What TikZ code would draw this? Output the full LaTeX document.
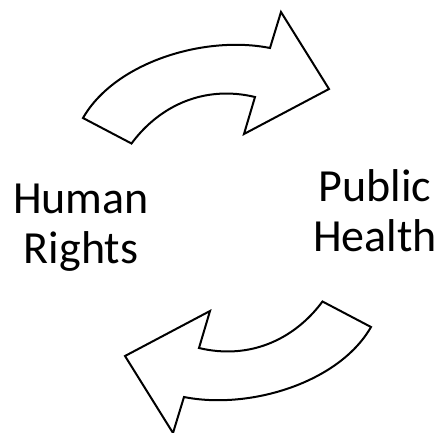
\documentclass[tikz,border=0pt]{standalone}
\usepackage{fontspec}
\setmainfont{Carlito}
\tikzset{
  bigarrow/.style={draw=black, line width=2pt, fill=white, line join=miter},
  label/.style={align=center, font=\fontsize{46}{50}\selectfont, inner sep=0pt}
}
\begin{document}
\begin{tikzpicture}[x=1pt,y=-1pt]
        \useasboundingbox (0,0) rectangle (440,432);
        % the two curved block arrows, the lower one is the upper turned round
        \foreach \ang in {0,180} {
          \draw[bigarrow, rotate around={\ang:(227,222.5)}]
            (83,118) .. controls (115,62) and (205,35) .. (270,48)
            -- (281,12) -- (329,89) -- (244,134) -- (255,97)
            .. controls (205,85) and (160,105) .. (131.5,143.5) -- cycle;
        }
        \node[label] (hr) at (81,228) {Human\\Rights};
        \node[label] (ph) at (375,211) {Public\\Health};
      \end{tikzpicture}
\end{document}
